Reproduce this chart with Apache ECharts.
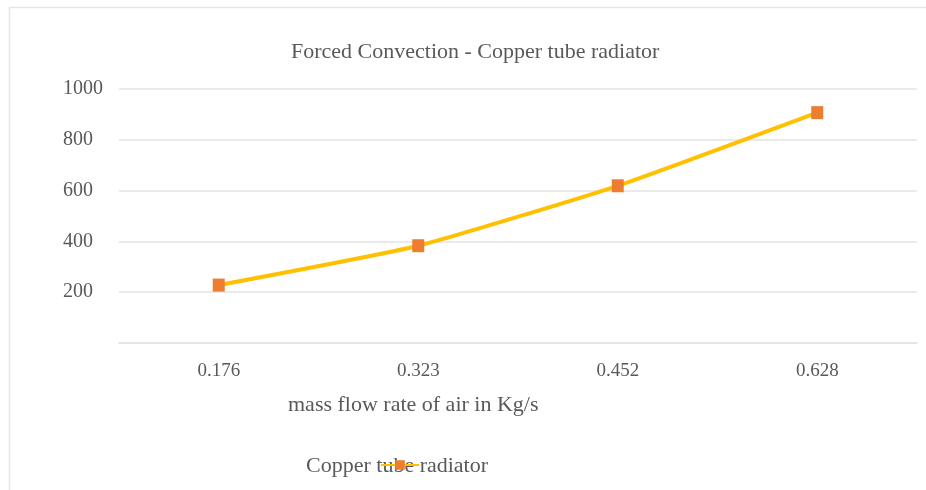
<!DOCTYPE html>
<html>
<head>
<meta charset="utf-8">
<script src="https://cdn.jsdelivr.net/npm/echarts@6/dist/echarts.min.js"></script>
<style>
  html, body { margin: 0; padding: 0; background: #fff; }
  #chart { width: 926px; height: 490px; }
</style>
</head>
<body>
<div id="chart"></div>
<script>
// data
const categories = ['0.176', '0.323', '0.452', '0.628'];
const values = [228, 383, 619, 907];
const yTicks = [0, 200, 400, 600, 800, 1000];
const seriesName = 'Copper tube radiator';

let chart = echarts.init(document.getElementById('chart'));
const font = '"Liberation Serif", "DejaVu Serif", serif';
const grey = '#595959';

chart.setOption({
    animation: false,
    backgroundColor: '#fff',
    title: {
        text: 'Forced Convection - Copper tube radiator',
        left: 286,
        top: 36,
        textStyle: { fontFamily: font, fontSize: 22, fontWeight: 'normal', color: grey }
    },
    // border round the chart area, the x axis title and the legend text
    graphic: [
        {
            type: 'rect', left: 7, top: 5, z: -10, silent: true,
            shape: { width: 960, height: 520 },
            style: { fill: 'none', stroke: '#e6e6e6', lineWidth: 1.5 }
        },
        {
            type: 'text', left: 288, top: 394, z: 0,
            style: { text: 'mass flow rate of air in Kg/s', font: '22px ' + font, fill: grey }
        },
        {
            type: 'text', left: 306, top: 455, z: 0,
            style: { text: seriesName, font: '22px ' + font, fill: grey }
        }
    ],
    legend: {
        left: 375,
        top: 454,
        itemWidth: 38,
        itemHeight: 12,
        z: 10,
        formatter: () => '',
        data: [seriesName]
    },
    grid: { left: 119, right: 9, top: 89, bottom: 147 },
    xAxis: {
        type: 'category',
        data: categories,
        boundaryGap: true,
        axisLine: { show: true, lineStyle: { color: '#e3e3e3', width: 1.5 } },
        axisTick: { show: false },
        axisLabel: { fontFamily: font, fontSize: 19, color: grey, margin: 19 }
    },
    yAxis: {
        type: 'value',
        min: yTicks[0],
        max: yTicks[yTicks.length - 1],
        interval: 200,
        axisLine: { show: false },
        axisTick: { show: false },
        splitLine: { lineStyle: { color: '#e3e3e3', width: 1.5 } },
        axisLabel: {
            fontFamily: font, fontSize: 20, color: grey,
            align: 'left', margin: 56,
            formatter: v => (v === 0 ? '' : String(v))
        }
    },
    series: [{
        name: seriesName,
        type: 'line',
        data: values,
        smooth: 0.15,
        symbol: 'rect',
        symbolSize: [12, 13],
        lineStyle: { color: '#FFC000', width: 4 },
        itemStyle: { color: '#ED7D31' }
    }]
});
</script>
</body>
</html>
